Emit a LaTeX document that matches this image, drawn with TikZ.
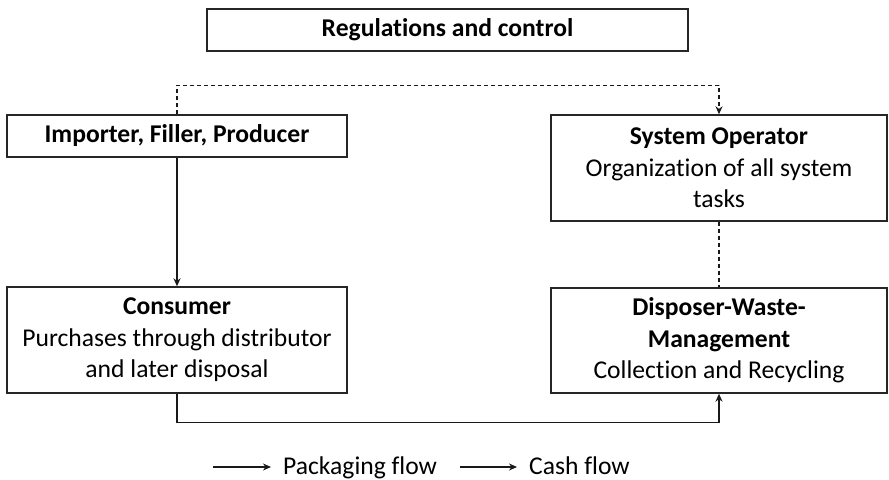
\documentclass[tikz,border=0pt]{standalone}
\usepackage{fontspec}
\setmainfont{Carlito}[Ligatures=NoCommon]
\usetikzlibrary{arrows.meta}
\begin{document}
\begin{tikzpicture}[x=1bp,y=-1bp,
  box/.style={draw=black!85,line width=1.4bp,inner sep=0pt,align=center,
    font=\fontsize{25.6bp}{31.5bp}\selectfont},
  tip/.style={-{Stealth[length=8bp,width=7bp]}},
  con/.style={draw=black!90,line width=1.3bp,tip},
  dcon/.style={draw=black!90,line width=1.3bp,dash pattern=on 4bp off 3bp},
  lbl/.style={font=\fontsize{25.6bp}{31.5bp}\selectfont,anchor=base west,inner sep=0pt}]
\useasboundingbox (0,0) rectangle (889,480);
\node[box,minimum width=481bp,minimum height=42bp] (reg) at (447.5,30) {\textbf{Regulations and control}};
\node[box,minimum width=340bp,minimum height=42bp] (imp) at (177,136) {\textbf{Importer, Filler, Producer}};
\node[box,minimum width=340bp,minimum height=106bp] (cons) at (177,340) {\textbf{Consumer}\\Purchases through distributor\\and later disposal};
\node[box,minimum width=336bp,minimum height=106bp] (sys) at (719,168) {\textbf{System Operator}\\Organization of all system\\tasks};
\node[box,minimum width=336bp,minimum height=105bp] (dis) at (719,340.5) {\textbf{Disposer-Waste-}\\\textbf{Management}\\Collection and Recycling};
\draw[dcon,tip] (imp.north) -- ++(0,-29) -| (sys.north);
\draw[con] (imp.south) -- (cons.north);
\draw[dcon] (sys.south) -- (dis.north);
\draw[con] (cons.south) -- ++(0,29) -| (dis.south);
\coordinate (a1) at (213,467);
\coordinate (a2) at (271,467);
\coordinate (b1) at (460,467);
\coordinate (b2) at (517,467);
\draw[con] (a1) -- (a2);
\draw[con] (b1) -- (b2);
\node[lbl] (pf) at (283,474) {Packaging flow};
\node[lbl] (cf) at (529,474) {Cash flow};
\end{tikzpicture}
\end{document}
